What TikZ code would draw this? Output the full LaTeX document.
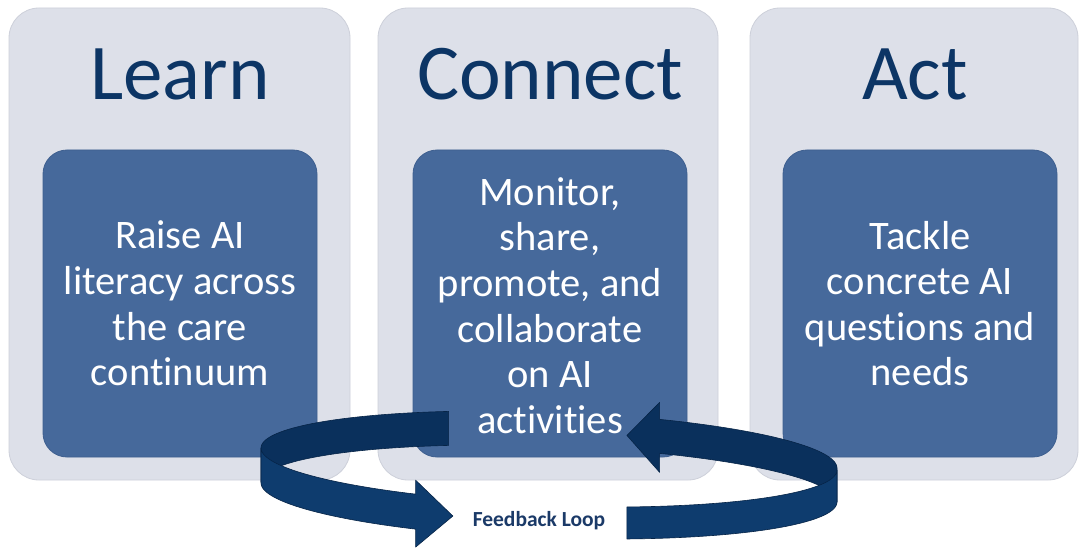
\documentclass[tikz,border=0pt]{standalone}
\usepackage{fontspec}
\setmainfont{Carlito}[RawFeature={-liga}]
\definecolor{boxfill}{HTML}{DDE0E9}
\definecolor{boxline}{HTML}{CDD0DA}
\definecolor{innerfill}{HTML}{46699B}
\definecolor{innerline}{HTML}{3E5F8F}
\definecolor{titlecol}{HTML}{0C3565}
\definecolor{backcol}{HTML}{0A305C}
\definecolor{frontcol}{HTML}{0E3C6E}
\definecolor{edgecol}{HTML}{062447}
\definecolor{fbcol}{HTML}{1B3A68}
\begin{document}
\begin{tikzpicture}[x=1pt,y=-1pt,
  outerbox/.style={draw=boxline, fill=boxfill, rounded corners=30pt, line width=0.8pt, inner sep=0pt},
  innerbox/.style={draw=innerline, fill=innerfill, rounded corners=24pt, line width=0.8pt, inner sep=0pt, minimum width=274pt, minimum height=307pt},
  titletext/.style={text=titlecol, font=\fontsize{79}{90}\selectfont, anchor=base, inner sep=0pt},
  bodytext/.style={text=white, font=\fontsize{40.5}{45.6}\selectfont, align=center, inner sep=0pt},
  backband/.style={fill=backcol, draw=edgecol, line width=0.6pt, line join=round},
  frontband/.style={fill=frontcol, draw=edgecol, line width=0.6pt, line join=round},
  fbtext/.style={text=fbcol, font=\bfseries\fontsize{21.5}{24}\selectfont, inner sep=0pt, anchor=base},
  declare function={lx(\t)=549+288*cos(\t); ly(\t)=475-46*sin(\t)+10*cos(\t);}
]
\useasboundingbox (0,0) rectangle (1081,548);
\fill[white] (0,0) rectangle (1081,548);

% outer columns
\node[outerbox, minimum width=341pt, minimum height=472pt] (learnbox) at (179.5,244) {};
\node[outerbox, minimum width=340pt, minimum height=472pt] (connectbox) at (548,244) {};
\node[outerbox, minimum width=328pt, minimum height=472pt] (actbox) at (914,244) {};

% titles
\node[titletext] (learntitle) at (180,100) {Learn};
\node[titletext] (connecttitle) at (550,100) {Connect};
\node[titletext] (acttitle) at (915,100) {Act};

% inner boxes
\node[innerbox] (learninner) at (180,303.5) {};
\node[innerbox] (connectinner) at (550,303.5) {};
\node[innerbox] (actinner) at (920,303.5) {};

\node[bodytext] (learntext) at (learninner.center) {Raise AI\\literacy across\\the care\\continuum};
\node[bodytext] (connecttext) at ([yshift=-2pt]connectinner.center) {Monitor,\\share,\\promote, and\\collaborate\\on AI\\activities};
\node[bodytext] (acttext) at (actinner.center) {Tackle\\concrete AI\\questions and\\needs};

% feedback loop: back faces
\filldraw[backband] plot[domain=110.4:180,samples=40] ({lx(\x)},{ly(\x)-17})
  -- plot[domain=180:110.4,samples=40] ({lx(\x)},{ly(\x)+17}) -- cycle;
\filldraw[backband] plot[domain=0:67.4,samples=40] ({lx(\x)},{ly(\x)-17})
  -- ({lx(67.4)},{ly(67.4)-34}) -- ({lx(74.3)},{ly(74.3)+2})
  -- ({lx(67.4)},{ly(67.4)+36})
  -- plot[domain=67.4:0,samples=40] ({lx(\x)},{ly(\x)+17}) -- cycle;
% front faces
\filldraw[frontband] plot[domain=180:242.4,samples=40] ({lx(\x)},{ly(\x)-17})
  -- ({lx(242.4)},{ly(242.4)-31}) -- ({lx(250.5)},{ly(250.5)+1})
  -- ({lx(242.4)},{ly(242.4)+36})
  -- plot[domain=242.4:180,samples=40] ({lx(\x)},{ly(\x)+18}) -- cycle;
\filldraw[frontband] plot[domain=285.7:360,samples=40] ({lx(\x)},{ly(\x)-15})
  -- plot[domain=360:285.7,samples=40] ({lx(\x)},{ly(\x)+17}) -- cycle;

\node[fbtext] (fb) at (539,526) {Feedback Loop};
\end{tikzpicture}
\end{document}
